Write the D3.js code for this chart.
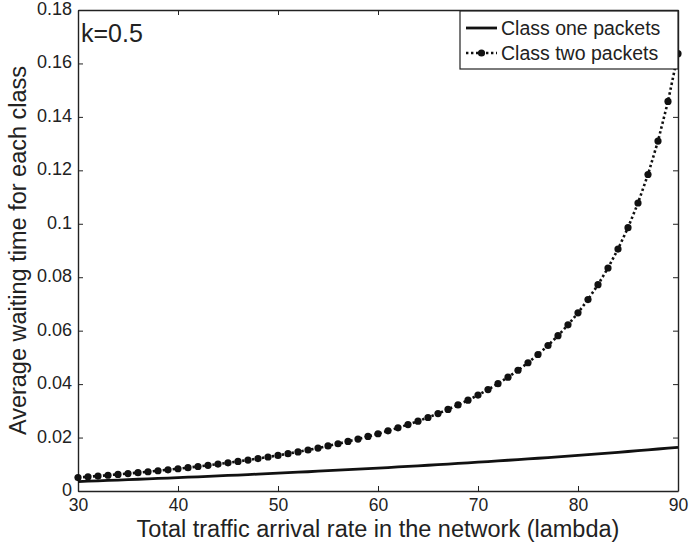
<!DOCTYPE html>
<html>
<head>
<meta charset="utf-8">
<script src="https://cdn.jsdelivr.net/npm/d3@7"></script>
<style>
  body { margin: 0; background: #fff; }
  text { font-family: "Liberation Sans", Arial, sans-serif; fill: #222; }
</style>
</head>
<body>
<svg id="chart" width="690" height="547"></svg>
<script>
// lambda values (x)
const lambdas = d3.range(30, 91);

// Class one packets: average waiting time
const classOne = [
  0.00353, 0.00367, 0.00381, 0.00395, 0.00410, 0.00424, 0.00439, 0.00454, 0.00469, 0.00484,
  0.00500, 0.00516, 0.00532, 0.00548, 0.00564, 0.00581, 0.00597, 0.00614, 0.00632, 0.00649,
  0.00667, 0.00685, 0.00703, 0.00721, 0.00740, 0.00759, 0.00778, 0.00797, 0.00817, 0.00837,
  0.00857, 0.00878, 0.00899, 0.00920, 0.00941, 0.00963, 0.00985, 0.01008, 0.01030, 0.01053,
  0.01077, 0.01101, 0.01125, 0.01150, 0.01175, 0.01200, 0.01226, 0.01252, 0.01279, 0.01306,
  0.01333, 0.01361, 0.01390, 0.01419, 0.01448, 0.01478, 0.01509, 0.01540, 0.01571, 0.01604,
  0.01636
];

// Class two packets: average waiting time
const classTwo = [
  0.00504, 0.00532, 0.00560, 0.00590, 0.00621, 0.00653, 0.00686, 0.00721, 0.00757, 0.00794,
  0.00833, 0.00874, 0.00917, 0.00961, 0.01007, 0.01056, 0.01106, 0.01159, 0.01215, 0.01273,
  0.01333, 0.01397, 0.01464, 0.01534, 0.01608, 0.01686, 0.01768, 0.01854, 0.01945, 0.02041,
  0.02143, 0.02251, 0.02365, 0.02486, 0.02614, 0.02751, 0.02897, 0.03053, 0.03220, 0.03398,
  0.03590, 0.03796, 0.04018, 0.04258, 0.04518, 0.04800, 0.05108, 0.05444, 0.05812, 0.06218,
  0.06667, 0.07165, 0.07721, 0.08346, 0.09052, 0.09855, 0.10777, 0.11845, 0.13095, 0.14578,
  0.16364
];

const xTicks = [30, 40, 50, 60, 70, 80, 90];
const yTicks = [0, 0.02, 0.04, 0.06, 0.08, 0.1, 0.12, 0.14, 0.16, 0.18];
const legendLabels = ["Class one packets", "Class two packets"];

const svg = d3.select("#chart");
const margin = {top: 10, right: 12, bottom: 56, left: 78};
const width = 690, height = 547;

const x = d3.scaleLinear().domain([30, 90]).range([margin.left, width - margin.right]);
const y = d3.scaleLinear().domain([0, 0.18]).range([height - margin.bottom, margin.top]);

const fmt = d => d === 0 ? "0" : String(+d.toFixed(2));

// axes (ticks inward, box on all sides)
svg.append("g")
    .attr("transform", `translate(0,${y(0)})`)
    .call(d3.axisBottom(x).tickValues(xTicks).tickSizeInner(-5).tickSizeOuter(0).tickPadding(8))
    .call(g => g.selectAll("text").attr("font-size", 17.5));
svg.append("g")
    .attr("transform", `translate(0,${y(0.18)})`)
    .call(d3.axisTop(x).tickValues(xTicks).tickSizeInner(-5).tickSizeOuter(0).tickFormat(""));
svg.append("g")
    .attr("transform", `translate(${x(30)},0)`)
    .call(d3.axisLeft(y).tickValues(yTicks).tickFormat(fmt).tickSizeInner(-5).tickSizeOuter(0).tickPadding(6))
    .call(g => g.selectAll("text").attr("font-size", 18).attr("dy", "0.25em"));
svg.append("g")
    .attr("transform", `translate(${x(90)},0)`)
    .call(d3.axisRight(y).tickValues(yTicks).tickSizeInner(-5).tickSizeOuter(0).tickFormat(""));

svg.selectAll(".domain").attr("stroke", "#222").attr("stroke-width", 1.4);
svg.selectAll(".tick line").attr("stroke", "#222").attr("stroke-width", 1);

// lines
const line = d3.line().x((d, i) => x(lambdas[i])).y(d => y(d));

svg.append("path")
    .datum(classOne)
    .attr("fill", "none")
    .attr("stroke", "#111")
    .attr("stroke-width", 2.8)
    .attr("d", line);

svg.append("path")
    .datum(classTwo)
    .attr("fill", "none")
    .attr("stroke", "#111")
    .attr("stroke-width", 2.6)
    .attr("stroke-dasharray", "2.4,2.6")
    .attr("d", line);

svg.append("g").selectAll("circle")
    .data(classTwo)
    .enter().append("circle")
    .attr("cx", (d, i) => x(lambdas[i]))
    .attr("cy", d => y(d))
    .attr("r", 3.6)
    .attr("fill", "#111");

// annotation
svg.append("text")
    .attr("x", x(30) + 3)
    .attr("y", 42)
    .attr("font-size", 25)
    .text("k=0.5");

// legend
const lg = svg.append("g");
lg.append("rect")
    .attr("x", 460).attr("y", 11)
    .attr("width", x(90) - 460).attr("height", 58)
    .attr("fill", "#fff").attr("stroke", "#222").attr("stroke-width", 1.2);
lg.append("line")
    .attr("x1", 466).attr("x2", 497).attr("y1", 28).attr("y2", 28)
    .attr("stroke", "#111").attr("stroke-width", 2.8);
lg.append("line")
    .attr("x1", 466).attr("x2", 497).attr("y1", 53).attr("y2", 53)
    .attr("stroke", "#111").attr("stroke-width", 2.6).attr("stroke-dasharray", "2.4,2.6");
lg.append("circle").attr("cx", 481.5).attr("cy", 53).attr("r", 3.6).attr("fill", "#111");
lg.selectAll("text.lab")
    .data(legendLabels)
    .enter().append("text")
    .attr("class", "lab")
    .attr("x", 501)
    .attr("y", (d, i) => 28 + i * 25)
    .attr("dy", "0.35em")
    .attr("font-size", 19.5)
    .text(d => d);

// axis labels
svg.append("text")
    .attr("x", (x(30) + x(90)) / 2)
    .attr("y", 537)
    .attr("text-anchor", "middle")
    .attr("font-size", 23.5)
    .text("Total traffic arrival rate in the network (lambda)");
svg.append("text")
    .attr("transform", `translate(26,${(y(0) + y(0.18)) / 2}) rotate(-90)`)
    .attr("text-anchor", "middle")
    .attr("font-size", 23.5)
    .text("Average waiting time for each class");
</script>
</body>
</html>
